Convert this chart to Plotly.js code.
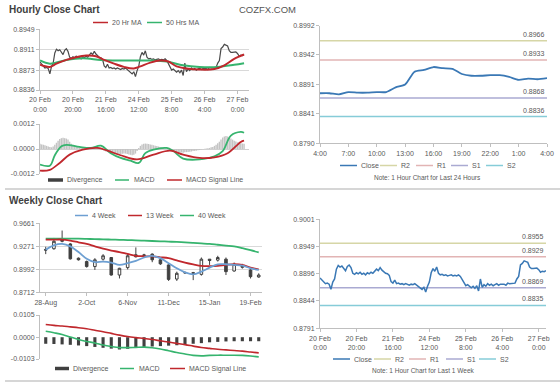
<!DOCTYPE html>
<html><head><meta charset="utf-8">
<script src="https://cdn.plot.ly/plotly-3.0.1.min.js"></script>
<style>html,body{margin:0;padding:0;background:#fff}#chart{width:560px;height:385px}</style>
</head><body><div id="chart"></div>
<script>
// ---------- DATA ----------
const hourTickIdx = [0,20,40,60,80,100,120];
const hourTickText = ['20 Feb<br>0:00','20 Feb<br>20:00','21 Feb<br>16:00','24 Feb<br>12:00','25 Feb<br>8:00','26 Feb<br>4:00','27 Feb<br>0:00'];
const closeHourly = [
0.8888,0.8884,0.8879,0.8877,0.8878,0.8876,0.8866,0.8880,0.8886,0.8905,
0.8912,0.8909,0.8911,0.8907,0.8902,0.8910,0.8913,0.8908,0.8897,0.8895,
0.8898,0.8896,0.8899,0.8895,0.8897,0.8894,0.8898,0.8896,0.8899,0.8897,
0.8901,0.8905,0.8902,0.8908,0.8903,0.8899,0.8897,0.8896,0.8893,0.8881,
0.8878,0.8884,0.8877,0.8878,0.8876,0.8877,0.8875,0.8877,0.8876,0.8874,
0.8876,0.8875,0.8877,0.8874,0.8872,0.8868,0.8866,0.8870,0.8861,0.8872,
0.8880,0.8898,0.8906,0.8901,0.8909,0.8897,0.8894,0.8895,0.8893,0.8894,
0.8892,0.8893,0.8894,0.8892,0.8893,0.8892,0.8894,0.8891,0.8884,0.8877,
0.8873,0.8875,0.8871,0.8869,0.8872,0.8868,0.8873,0.8863,0.8886,0.8870,
0.8875,0.8872,0.8877,0.8874,0.8876,0.8873,0.8875,0.8877,0.8874,0.8876,
0.8876,0.8876,0.8874,0.8878,0.8877,0.8877,0.8878,0.8878,0.8886,0.8891,
0.8913,0.8916,0.8921,0.8919,0.8918,0.8909,0.8906,0.8906,0.8907,0.8907,
0.8904,0.8899,0.8901,0.8900,0.8902];
const ma20X = [0,6,10,16,22,28,34,39,45,51,57,61,67,73,78,83,89,97,106,112,118,124];
const ma20Y = [0.8883,0.8879,0.8885,0.8892,0.8897,0.8900,0.8899,0.8892,0.8885,0.8879,0.8876,0.8880,0.8887,0.8891,0.8889,0.8880,0.8876,0.8874,0.8875,0.8882,0.8894,0.8902];
const ma50X = [0,6,16,26,37,47,57,67,77,87,97,108,118,124];
const ma50Y = [0.8891,0.8885,0.8892,0.8895,0.8892,0.8891,0.8891,0.8891,0.8889,0.8882,0.8879,0.8879,0.8883,0.8886];
const macdHX = [0,6,9,13,16,24,31,37,43,49,55,60,64,69,77,81,87,97,106,111,116,122,124];
const macdHY = [-0.00075,-0.0008,-0.0003,0.00013,0.0002,0.0001,0.00005,0.00016,-0.0002,-0.00043,-0.00056,-0.00067,-0.0002,-0.00003,0.00005,-0.0001,-0.00046,-0.0005,-0.00035,-0.0001,0.00064,0.00082,0.00078];
const sigHX = [0,6,12,18,26,35,41,49,59,69,79,87,97,106,114,122,124];
const sigHY = [-0.00104,-0.001,-0.00067,-0.00027,-0.00003,0.00005,-0.00008,-0.0003,-0.0005,-0.00027,-0.00008,-0.00027,-0.00043,-0.0004,-0.0002,0.00034,0.0004];
const divH = [
0.00025,0.00022,0.0002,0.00018,0.00015,0.00012,0.0001,0.00008,0.00012,0.0002,
0.0003,0.0004,0.00048,0.00052,0.00054,0.00052,0.0005,0.00045,0.00035,0.00025,
0.0002,0.00015,0.00012,0.0001,0.00008,0.00006,0.00005,0.00004,0.00004,0.00005,
0.00006,0.00008,0.0001,0.00012,0.0001,0.00008,0.00005,0.00002,-0.00003,-0.00008,
-0.00012,-0.00015,-0.00018,-0.0002,-0.00022,-0.00024,-0.00025,-0.00026,-0.00025,-0.00024,
-0.00023,-0.00022,-0.00022,-0.00024,-0.00026,-0.00028,-0.0003,-0.00028,-0.00022,-0.0001,
0.00005,0.00015,0.00022,0.00025,0.00026,0.00025,0.00024,0.00022,0.0002,0.00018,
0.00016,0.00014,0.00012,0.0001,0.00008,0.00006,0.00004,0.00002,-0.00002,-0.00006,
-0.0001,-0.00012,-0.00014,-0.00015,-0.00016,-0.00017,-0.00017,-0.00018,-0.00016,-0.00015,
-0.00014,-0.00013,-0.00012,-0.0001,-0.00009,-0.00008,-0.00006,-0.00005,-0.00003,-0.00001,
0.00001,0.00002,0.00003,0.00005,0.00008,0.0001,0.00015,0.0002,0.00028,0.00035,
0.00045,0.00055,0.0006,0.00062,0.0006,0.00055,0.0005,0.00045,0.0004,0.00036,
0.00032,0.0003,0.00028,0.00026,0.00025];
const dayStart = 100;   // last 24 hours start in closeHourly
const dayTickText = ['4:00','7:00','10:00','13:00','16:00','19:00','22:00','1:00','4:00'];
const levelNames = ['R2','R1','S1','S2'];
const levelColors = ['#d6d6a6','#e2b4b4','#aaaad2','#86ccd8'];
const levelsDay = [0.8966,0.8933,0.8868,0.8836];
const levelsWeek = [0.8955,0.8929,0.8869,0.8835];

const weekLabels = ['28-Aug','4-Sep','11-Sep','18-Sep','25-Sep','2-Oct','9-Oct','16-Oct','23-Oct','30-Oct','6-Nov','13-Nov','20-Nov','27-Nov','4-Dec','11-Dec','18-Dec','25-Dec','1-Jan','8-Jan','15-Jan','22-Jan','29-Jan','5-Feb','12-Feb','19-Feb','26-Feb'];
const wOpen  = [0.9233,0.9242,0.9365,0.9300,0.9127,0.9086,0.9025,0.9115,0.9135,0.8922,0.9012,0.9168,0.9160,0.9176,0.9107,0.9045,0.8873,0.8953,0.8951,0.8930,0.9115,0.9103,0.9115,0.8971,0.9037,0.8984,0.8898];
const wClose = [0.9225,0.9332,0.9332,0.9119,0.9107,0.9025,0.9107,0.9156,0.8922,0.9004,0.9156,0.9144,0.9166,0.9107,0.9058,0.8869,0.8943,0.8949,0.8943,0.9115,0.9099,0.9135,0.8963,0.9053,0.9016,0.8902,0.8922];
const wHigh  = [0.9266,0.9373,0.9463,0.9310,0.9135,0.9098,0.9127,0.9176,0.9140,0.9010,0.9176,0.9258,0.9180,0.9185,0.9115,0.9053,0.8963,0.8965,0.8960,0.9135,0.9115,0.9156,0.9135,0.9074,0.9058,0.9004,0.8943];
const wLow   = [0.9176,0.9230,0.9320,0.9110,0.9098,0.9012,0.8984,0.9098,0.8915,0.8880,0.8990,0.9135,0.9140,0.9078,0.9045,0.8850,0.8850,0.8935,0.8860,0.8915,0.9045,0.9086,0.8922,0.8963,0.9000,0.8880,0.8890];
const wk4  = [0.9230,0.9283,0.9300,0.9271,0.9201,0.9119,0.9078,0.9086,0.9074,0.9045,0.9066,0.9094,0.9135,0.9156,0.9127,0.9066,0.9004,0.8955,0.8930,0.8963,0.9012,0.9053,0.9053,0.9045,0.9037,0.9004,0.8984];
const wk13 = [0.9353,0.9353,0.9353,0.9340,0.9320,0.9300,0.9270,0.9242,0.9220,0.9201,0.9178,0.9156,0.9150,0.9148,0.9138,0.9127,0.9100,0.9074,0.9052,0.9033,0.9030,0.9033,0.9045,0.9053,0.9045,0.9012,0.8992];
const wk40 = [0.9365,0.9365,0.9365,0.9365,0.9365,0.9362,0.9358,0.9356,0.9353,0.9350,0.9347,0.9344,0.9340,0.9336,0.9332,0.9328,0.9324,0.9318,0.9312,0.9306,0.9300,0.9290,0.9280,0.9271,0.9250,0.9225,0.9197];
const macdW = [0.0028,0.0021,0.0013,0.0001,-0.0011,-0.0020,-0.0027,-0.0037,-0.0044,-0.0049,-0.0049,-0.0048,-0.0047,-0.0050,-0.0056,-0.0064,-0.0072,-0.0079,-0.0086,-0.0088,-0.0086,-0.0085,-0.0085,-0.0085,-0.0086,-0.0089,-0.0093];
const sigW  = [0.0060,0.0056,0.0053,0.0049,0.0045,0.0040,0.0033,0.0026,0.0018,0.0010,0.0003,-0.0002,-0.0006,-0.0011,-0.0017,-0.0023,-0.0029,-0.0035,-0.0042,-0.0049,-0.0053,-0.0057,-0.0060,-0.0063,-0.0066,-0.0070,-0.0074];
const divW  = [-0.0031,-0.0032,-0.0034,-0.0036,-0.0039,-0.0042,-0.0046,-0.0050,-0.0054,-0.0058,-0.0055,-0.0050,-0.0046,-0.0044,-0.0042,-0.0040,-0.0038,-0.0035,-0.0031,-0.0028,-0.0024,-0.0022,-0.0020,-0.0019,-0.0019,-0.0019,-0.0019];

const hPriceTicks = [0.8836,0.8873,0.8911,0.8949];
const hMacdTicks = [-0.0012,0,0.0012]; const hMacdText = ['-0.0012','0.0000','0.0012'];
const dayTicks = [0.8790,0.8841,0.8891,0.8942,0.8992];
const wPriceTicks = [0.8712,0.8992,0.9271,0.9551]; const wPriceText = ['0.8712','0.8992','0.9271','0.9661'];
const wMacdTicks = [-0.0103,0,0.0105]; const wMacdText = ['-0.0103','0.0000','0.0105'];
const weekHTicks = [0.8791,0.8844,0.8896,0.8949,0.9001];

// ---------- HELPERS ----------
const W=560,H=385;
const px=x=>x/W, py=y=>1-y/H;
const RED='#c0282d', GREEN='#36b46e', BLUE='#3a78b5', DARK='#404040';
const idx = n => Array.from({length:n},(_,i)=>i);
const f4 = v => v.toFixed(4);

const axBase = {showline:true, linecolor:'#bfbfbf', linewidth:1, ticks:'outside', ticklen:3, tickcolor:'#bfbfbf',
  zeroline:false, showgrid:false, tickfont:{size:7,color:'#595959'}, fixedrange:true};
const ax = o => Object.assign({}, axBase, o);

// ---------- TRACES ----------
const traces = [];
const dayIdx = idx(closeHourly.length - dayStart);
const dayClose = closeHourly.slice(dayStart);

// hourly price
traces.push({type:'scatter',mode:'lines',x:idx(closeHourly.length),y:closeHourly,xaxis:'x',yaxis:'y',line:{color:'#4a4a4a',width:1.2}});
traces.push({type:'scatter',mode:'lines',x:ma50X,y:ma50Y,xaxis:'x',yaxis:'y',line:{color:GREEN,width:2,shape:'spline'}});
traces.push({type:'scatter',mode:'lines',x:ma20X,y:ma20Y,xaxis:'x',yaxis:'y',line:{color:RED,width:2,shape:'spline'}});
// hourly MACD
traces.push({type:'bar',x:idx(divH.length),y:divH,xaxis:'x2',yaxis:'y2',marker:{color:'#c4c4c4',line:{width:0}},width:0.85});
traces.push({type:'scatter',mode:'lines',x:macdHX,y:macdHY,xaxis:'x2',yaxis:'y2',line:{color:GREEN,width:1.8,shape:'spline'}});
traces.push({type:'scatter',mode:'lines',x:sigHX,y:sigHY,xaxis:'x2',yaxis:'y2',line:{color:RED,width:1.8,shape:'spline'}});
// last 24h
levelsDay.forEach((v,k)=>traces.push({type:'scatter',mode:'lines',x:[0,24],y:[v,v],xaxis:'x3',yaxis:'y3',line:{color:levelColors[k],width:1.5}}));
traces.push({type:'scatter',mode:'lines',x:dayIdx,y:dayClose,xaxis:'x3',yaxis:'y3',line:{color:BLUE,width:1.8,shape:'spline',smoothing:0.6}});
// weekly candles
traces.push({type:'scatter',mode:'lines',x:idx(wk40.length),y:wk40,xaxis:'x4',yaxis:'y4',line:{color:GREEN,width:1.8,shape:'spline'}});
traces.push({type:'scatter',mode:'lines',x:idx(wk13.length),y:wk13,xaxis:'x4',yaxis:'y4',line:{color:RED,width:1.8,shape:'spline'}});
traces.push({type:'scatter',mode:'lines',x:idx(wk4.length),y:wk4,xaxis:'x4',yaxis:'y4',line:{color:'#6d9fd2',width:1.8,shape:'spline'}});
traces.push({type:'candlestick',x:idx(wOpen.length),open:wOpen,high:wHigh,low:wLow,close:wClose,xaxis:'x4',yaxis:'y4',
  increasing:{line:{color:DARK,width:1},fillcolor:'#ffffff'},decreasing:{line:{color:DARK,width:1},fillcolor:DARK},whiskerwidth:0});
// weekly MACD
traces.push({type:'bar',x:idx(divW.length),y:divW,xaxis:'x5',yaxis:'y5',marker:{color:DARK,line:{width:0}},width:0.38});
traces.push({type:'scatter',mode:'lines',x:idx(macdW.length),y:macdW,xaxis:'x5',yaxis:'y5',line:{color:GREEN,width:1.6,shape:'spline'}});
traces.push({type:'scatter',mode:'lines',x:idx(sigW.length),y:sigW,xaxis:'x5',yaxis:'y5',line:{color:RED,width:1.6,shape:'spline'}});
// last 1 week
levelsWeek.forEach((v,k)=>traces.push({type:'scatter',mode:'lines',x:[0,124],y:[v,v],xaxis:'x6',yaxis:'y6',line:{color:levelColors[k],width:1.5}}));
traces.push({type:'scatter',mode:'lines',x:idx(closeHourly.length),y:closeHourly,xaxis:'x6',yaxis:'y6',line:{color:BLUE,width:1.5}});

// ---------- ANNOTATIONS & SHAPES ----------
const ann = [], shp = [];
function text(x,y,t,o){ann.push(Object.assign({xref:'paper',yref:'paper',x:px(x),y:py(y),text:t,showarrow:false,xanchor:'left',yanchor:'middle',font:{size:7,color:'#595959'}},o||{}));}
function hline(x0,x1,y,color,w){shp.push({type:'line',xref:'paper',yref:'paper',x0:px(x0),x1:px(x1),y0:py(y),y1:py(y),line:{color:color,width:w}});}

text(7,9,'<b>Hourly Close Chart</b>',{font:{size:10,color:'#404040'}});
text(237,9,'COZFX.COM',{font:{size:9.5,color:'#555'}});
text(7,201,'<b>Weekly Close Chart</b>',{font:{size:10,color:'#404040'}});
hline(5,560,189,'#c8c8c8',1.5);
hline(5,560,381,'#c8c8c8',1.5);

// legends
hline(93,108,22.5,RED,1.5); text(110,22.5,'20 Hr MA');
hline(147,162,22.5,GREEN,1.5); text(164,22.5,'50 Hrs MA');

hline(48,63,180,DARK,3.5); text(65,180,'Divergence');
hline(115,129,180,GREEN,1.5); text(132,180,'MACD');
hline(167,182,180,RED,1.5); text(184,180,'MACD Signal Line');

function levelLegend(y, xs){
  hline(xs[0],xs[0]+17,y,BLUE,1.5); text(xs[0]+19,y,'Close');
  levelNames.forEach((n,k)=>{hline(xs[k+1],xs[k+1]+17,y,levelColors[k],1.5); text(xs[k+1]+19,y,n);});
}
levelLegend(165.5,[340,380,416,451,486]);
text(427,177.5,'Note: 1 Hour Chart for Last 24 Hours',{xanchor:'center',font:{size:6.5,color:'#595959'}});
levelLegend(359,[333,374,409,446,479]);
text(423,370,'Note: 1 Hour Chart for Last 1 Week',{xanchor:'center',font:{size:6.5,color:'#595959'}});

hline(75,88,215.5,'#6d9fd2',1.5); text(90,215.5,'4 Week');
hline(128,142,215.5,RED,1.5); text(144,215.5,'13 Week');
hline(180,194,215.5,GREEN,1.5); text(196,215.5,'40 Week');

hline(55,69,368.5,DARK,3.5); text(71,368.5,'Divergence');
hline(120,134,368.5,GREEN,1.5); text(137,368.5,'MACD');
hline(170,185,368.5,RED,1.5); text(187,368.5,'MACD Signal Line');

// level value labels
levelsDay.forEach(v=>ann.push({xref:'x3',yref:'y3',x:24,y:v,text:f4(v),showarrow:false,xanchor:'right',yanchor:'bottom',yshift:1,font:{size:7,color:'#595959'}}));
levelsWeek.forEach(v=>ann.push({xref:'x6',yref:'y6',x:124,y:v,text:f4(v),showarrow:false,xanchor:'right',yanchor:'bottom',yshift:1,font:{size:7,color:'#595959'}}));

// ---------- LAYOUT ----------
const layout = {
  width:W,height:H,margin:{l:0,r:0,t:0,b:0},paper_bgcolor:'#fff',plot_bgcolor:'rgba(0,0,0,0)',
  showlegend:false,font:{family:'Liberation Sans, Arial, sans-serif',size:7,color:'#595959'},
  boxgap:0.55,bargap:0.1,
  xaxis: ax({domain:[px(40),px(249)],range:[0,127],anchor:'y',tickmode:'array',tickvals:hourTickIdx,ticktext:hourTickText}),
  yaxis: ax({domain:[py(90),py(29.3)],range:[hPriceTicks[0],hPriceTicks[3]],anchor:'x',tickmode:'array',tickvals:hPriceTicks,ticktext:hPriceTicks.map(f4),showgrid:true,gridcolor:'#d9d9d9'}),
  xaxis2: ax({domain:[px(40),px(249)],range:[0,127],anchor:'y2',showline:false,ticks:'',showticklabels:false}),
  yaxis2: ax({domain:[py(174),py(124)],range:[-0.0012,0.0012],anchor:'x2',tickmode:'array',tickvals:hMacdTicks,ticktext:hMacdText,zeroline:true,zerolinecolor:'#d0d0d0',zerolinewidth:1}),
  xaxis3: ax({domain:[px(320),px(547)],range:[0,24],anchor:'y3',tickmode:'array',tickvals:[0,3,6,9,12,15,18,21,24],ticktext:dayTickText}),
  yaxis3: ax({domain:[py(143.3),py(25.7)],range:[dayTicks[0],dayTicks[4]],anchor:'x3',tickmode:'array',tickvals:dayTicks,ticktext:dayTicks.map(f4)}),
  xaxis4: ax({domain:[px(40),px(262)],range:[-0.7,26.4],anchor:'y4',tickmode:'array',tickvals:[0,5,10,15,20,25],ticktext:[0,5,10,15,20,25].map(i=>weekLabels[i]),rangeslider:{visible:false}}),
  yaxis4: ax({domain:[py(292.3),py(223.3)],range:[wPriceTicks[0],wPriceTicks[3]],anchor:'x4',tickmode:'array',tickvals:wPriceTicks,ticktext:wPriceText,showgrid:true,gridcolor:'#d9d9d9'}),
  xaxis5: ax({domain:[px(40),px(262)],range:[-0.7,26.4],anchor:'y5',showline:false,ticks:'',showticklabels:false}),
  yaxis5: ax({domain:[py(359),py(315)],range:[-0.0103,0.0105],anchor:'x5',tickmode:'array',tickvals:wMacdTicks,ticktext:wMacdText}),
  xaxis6: ax({domain:[px(320),px(546)],range:[0,124],anchor:'y6',tickmode:'array',tickvals:hourTickIdx,ticktext:hourTickText}),
  yaxis6: ax({domain:[py(328.3),py(219.3)],range:[weekHTicks[0],weekHTicks[4]],anchor:'x6',tickmode:'array',tickvals:weekHTicks,ticktext:weekHTicks.map(f4)}),
  annotations:ann, shapes:shp
};
Plotly.newPlot('chart',traces,layout,{staticPlot:true,displayModeBar:false});
</script></body></html>
